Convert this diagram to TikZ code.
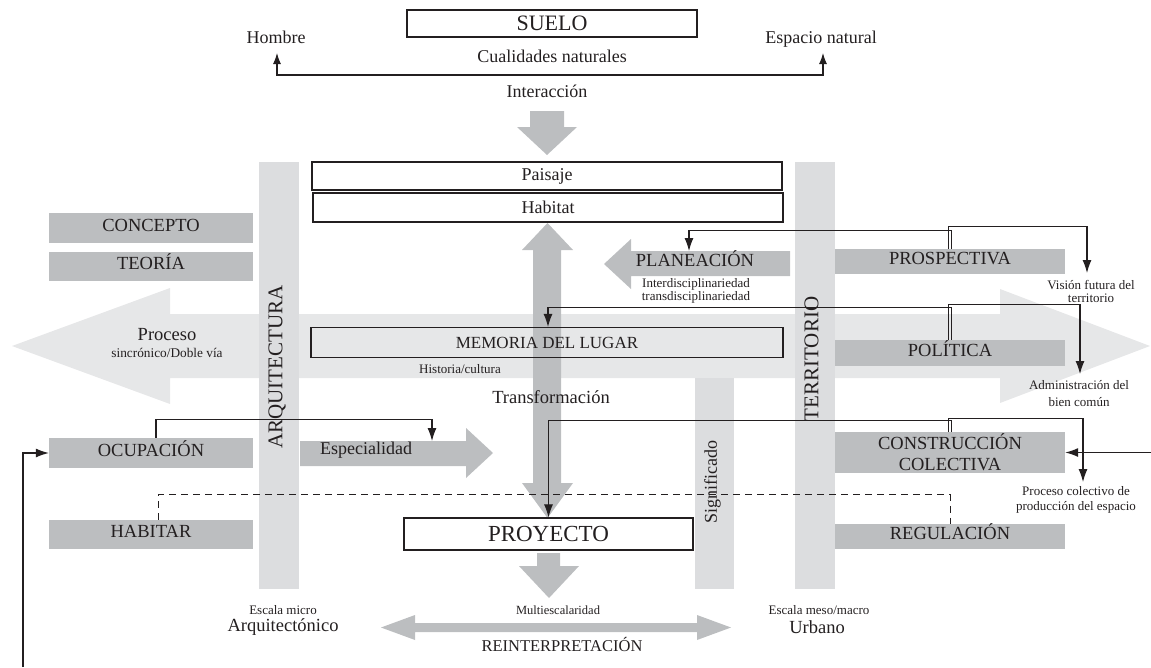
\documentclass[tikz,border=0pt]{standalone}
\usepackage{fontspec}
\setmainfont{Liberation Serif}
\usetikzlibrary{arrows.meta}
\definecolor{gmed}{HTML}{BCBEC0}
\definecolor{gband}{HTML}{DCDDDF}
\definecolor{glight}{HTML}{E6E7E8}
\definecolor{ink}{HTML}{231F20}
\newcommand\myfs[2]{\fontsize{#1pt}{#2pt}\selectfont}
\begin{document}
\begin{tikzpicture}[x=1pt,y=-1pt,
  wbox/.style={draw=ink, line width=1.2pt, fill=white, inner sep=0pt, text=ink},
  caps/.style={inner sep=0pt, text=ink, text height=.66em, text depth=0pt},
  gbox/.style={fill=gmed, inner sep=0pt, text=ink, font=\myfs{18.5}{21}},
  lbl/.style={inner sep=0pt, text=ink, text height=.68em, text depth=.2em},
  mlbl/.style={inner sep=0pt, text=ink, align=center},
  conn/.style={draw=ink, line width=1.1pt, -{Latex[length=13pt,width=9pt]}},
  sconn/.style={draw=ink, line width=1.1pt, {Latex[length=11pt,width=8pt]}-{Latex[length=11pt,width=8pt]}},
]
\useasboundingbox (0,0) rectangle (1151,667);

% big horizontal double arrow
\fill[glight] (12,346) -- (170,288) -- (170,314) -- (1000,314) -- (1000,289) -- (1150,346) -- (1000,403) -- (1000,378) -- (170,378) -- (170,404) -- cycle;

% vertical bands
\fill[gband] (259,162) rectangle (299,589);
\fill[gband] (795,162) rectangle (835,589);
\fill[gband] (695,378) rectangle (734,589);
\node[caps, rotate=90, font=\myfs{21}{21}] (arq) at (279,367) {ARQUITECTURA};
\node[caps, rotate=90, font=\myfs{21}{21}] (terr) at (815,359) {TERRITORIO};
\node[lbl, rotate=90, font=\myfs{18}{18}] (sig) at (714.5,482) {Significado};

% grey arrows
\fill[gmed] (530,111) -- (564,111) -- (564,127) -- (577,127) -- (547,155) -- (517,127) -- (530,127) -- cycle;
\fill[gmed] (547.5,223) -- (573,250) -- (561,250) -- (561,483) -- (573,483) -- (547.5,518) -- (522,483) -- (533,483) -- (533,250) -- (522,250) -- cycle;
\fill[gmed] (537,553) -- (560,553) -- (560,566) -- (579,566) -- (549,598) -- (519,566) -- (537,566) -- cycle;
\fill[gmed] (300,441) -- (466,441) -- (466,428) -- (493,453) -- (466,478) -- (466,466) -- (300,466) -- cycle;
\fill[gmed] (604,264) -- (631,239) -- (631,251) -- (790,251) -- (790,276) -- (631,276) -- (631,289) -- cycle;
\fill[gmed] (381,627.5) -- (415,615) -- (415,623) -- (697,623) -- (697,615) -- (731,627.5) -- (697,640) -- (697,632) -- (415,632) -- (415,640) -- cycle;

% white boxes
\node[wbox, minimum width=290pt, minimum height=27pt, font=\myfs{22}{22}] (suelo) at (552,23.5) {SUELO};
\node[wbox, minimum width=470pt, minimum height=28pt, font=\myfs{18}{18}] (paisaje) at (547,176) {Paisaje};
\node[wbox, minimum width=470pt, minimum height=29pt, font=\myfs{18}{18}] (habitat) at (548,207.5) {Habitat};
\node[draw=ink, line width=1.2pt, inner sep=0pt, text=ink, minimum width=472pt, minimum height=30pt, font=\myfs{17}{17}] (memoria) at (547,342.5) {MEMORIA DEL LUGAR};
\node[wbox, minimum width=289pt, minimum height=32pt, font=\myfs{23}{23}] (proyecto) at (548.5,534) {PROYECTO};

% grey boxes
\node[gbox, caps, minimum width=204pt, minimum height=30pt] (concepto) at (151,228) {CONCEPTO};
\node[gbox, caps, minimum width=204pt, minimum height=29pt] (teoria) at (151,266.5) {TEORÍA};
\node[gbox, caps, minimum width=204pt, minimum height=30pt] (ocupacion) at (151,453) {OCUPACIÓN};
\node[gbox, caps, minimum width=204pt, minimum height=29pt] (habitar) at (151,534.5) {HABITAR};
\node[gbox, caps, minimum width=230pt, minimum height=25pt] (prospectiva) at (950,261.5) {PROSPECTIVA};
\node[gbox, caps, minimum width=230pt, minimum height=26pt] (politica) at (950,353) {POLÍTICA};
\node[gbox, align=center, minimum width=230pt, minimum height=41pt] (construccion) at (950,452.5) {CONSTRUCCIÓN\\COLECTIVA};
\node[gbox, caps, minimum width=230pt, minimum height=25pt] (regulacion) at (950,536.5) {REGULACIÓN};

% labels
\node[lbl, font=\myfs{18}{18}] (hombre) at (276,41) {Hombre};
\node[lbl, font=\myfs{18}{18}] (espacio) at (821,41) {Espacio natural};
\node[lbl, font=\myfs{18}{18}] (cualidades) at (552,60) {Cualidades naturales};
\node[lbl, font=\myfs{18}{18}] (interaccion) at (547,95) {Interacción};
\node[caps, font=\myfs{18.5}{18.5}] (planeacion) at (695,263.5) {PLANEACIÓN};
\node[lbl, font=\myfs{18.5}{18.5}] (proceso) at (167,338) {Proceso};
\node[lbl, font=\myfs{13.3}{13.3}] (sincr) at (167,355) {sincrónico/Doble vía};
\node[lbl, font=\myfs{13}{13}] (historia) at (460,371) {Historia/cultura};
\node[lbl, font=\myfs{18.5}{18.5}] (transf) at (551,401) {Transformación};
\node[lbl, font=\myfs{18}{18}] (especialidad) at (366,452) {Especialidad};
\node[mlbl, font=\myfs{13}{12.5}] (interdis) at (696,291) {Interdisciplinariedad\\transdisciplinariedad};
\node[mlbl, font=\myfs{13}{13}] (vision) at (1091,291.5) {Visión futura del\\territorio};
\node[mlbl, font=\myfs{13}{17}] (admin) at (1079,393.5) {Administración del\\bien común};
\node[mlbl, font=\myfs{13}{15}] (pcol) at (1076,499.5) {Proceso colectivo de\\producción del espacio};
\node[lbl, font=\myfs{13}{13}] (emicro) at (283,612) {Escala micro};
\node[lbl, font=\myfs{18.5}{18.5}] (arqtco) at (283,629) {Arquitectónico};
\node[lbl, font=\myfs{13}{13}] (emeso) at (819,612) {Escala meso/macro};
\node[lbl, font=\myfs{18.5}{18.5}] (urbano) at (817,631) {Urbano};
\node[lbl, font=\myfs{12.5}{12.5}] (multi) at (558,612) {Multiescalaridad};
\node[caps, font=\myfs{16.5}{16.5}] (reint) at (562,648) {REINTERPRETACIÓN};

% connector end points
\coordinate (hombretip) at (277,53);
\coordinate (espaciotip) at (823,53);
\coordinate (cualbase) at (550,75);
\coordinate (planin) at (689,251);
\coordinate (visin) at (1087,273);
\coordinate (adminin) at (1080,374);
\coordinate (pcolin) at (1083,482);
\coordinate (espin) at (432,441);
\coordinate (loopL) at (23,667);
\coordinate (loopR) at (1151,452.5);

% connectors
\draw[sconn] (hombretip) |- (cualbase) -| (espaciotip);
\draw[conn] ([xshift=1.5pt]prospectiva.north) -- ++(0,-18) -| (planin);
\draw[conn] ([xshift=-1.5pt]prospectiva.north) -- ++(0,-22) -| (visin);
\draw[conn] ([xshift=1.5pt]politica.north) -- ++(0,-32) -| ([xshift=1pt]memoria.north);
\draw[conn] ([xshift=-1.5pt]politica.north) -- ++(0,-35) -| (adminin);
\draw[conn] ([xshift=1.5pt]construccion.north) -- ++(0,-11) -| (proyecto.north);
\draw[conn] ([xshift=-1.5pt]construccion.north) -- ++(0,-13) -| (pcolin);
\draw[conn] ([xshift=5pt]ocupacion.north) -- ++(0,-18) -| (espin);
\draw[conn] (loopL) |- (ocupacion.west);
\draw[conn] (loopR) -- (construccion.east);
\draw[draw=ink, line width=1pt, dash pattern=on 7pt off 5pt] ([xshift=7pt]habitar.north) -- ++(0,-25) -| (regulacion.north);
\end{tikzpicture}
\end{document}
